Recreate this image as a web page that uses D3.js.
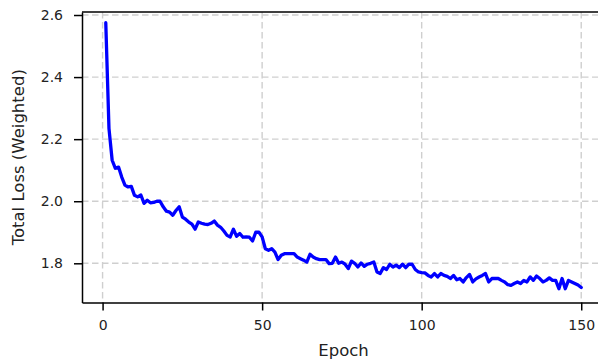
<!DOCTYPE html>
<html>
<head>
<meta charset="utf-8">
<script src="https://cdn.jsdelivr.net/npm/d3@7"></script>
<style>
    body { margin: 0; background: #fff; }
    svg { display: block; font-family: "DejaVu Sans", sans-serif; }
    .grid line { stroke: #cfcfcf; stroke-width: 1.4; stroke-dasharray: 6.5 3.5; }
    .axis text { font-size: 14px; fill: #222; font-family: "DejaVu Sans", sans-serif; }
    .axis line, .axis path { stroke: #000; stroke-width: 1.5; }
</style>
</head>
<body>
<div id="chart"></div>
<script>
// Loss per epoch
const epochs = d3.range(1, 151);
const totalLoss = [
    2.575, 2.235, 2.132, 2.106, 2.110, 2.078, 2.052, 2.046, 2.048, 2.019,
    2.014, 2.020, 1.993, 2.003, 1.995, 1.996, 2.000, 2.000, 1.982, 1.968,
    1.965, 1.955, 1.970, 1.982, 1.949, 1.942, 1.933, 1.926, 1.910, 1.933,
    1.929, 1.926, 1.925, 1.929, 1.936, 1.923, 1.916, 1.904, 1.890, 1.885,
    1.910, 1.887, 1.896, 1.884, 1.885, 1.884, 1.872, 1.900, 1.900, 1.885,
    1.847, 1.842, 1.847, 1.836, 1.812, 1.826, 1.831, 1.831, 1.831, 1.831,
    1.820, 1.815, 1.810, 1.804, 1.829, 1.820, 1.815, 1.812, 1.812, 1.812,
    1.799, 1.800, 1.820, 1.800, 1.804, 1.797, 1.783, 1.807, 1.800, 1.788,
    1.801, 1.790, 1.797, 1.800, 1.804, 1.772, 1.767, 1.786, 1.780, 1.797,
    1.788, 1.794, 1.786, 1.797, 1.786, 1.797, 1.797, 1.780, 1.772, 1.770,
    1.769, 1.761, 1.756, 1.767, 1.756, 1.767, 1.761, 1.758, 1.751, 1.761,
    1.747, 1.751, 1.740, 1.754, 1.764, 1.740, 1.750, 1.756, 1.761, 1.767,
    1.740, 1.751, 1.751, 1.751, 1.745, 1.740, 1.731, 1.729, 1.735, 1.740,
    1.735, 1.745, 1.740, 1.756, 1.745, 1.759, 1.751, 1.740, 1.745, 1.753,
    1.745, 1.745, 1.718, 1.751, 1.718, 1.745, 1.740, 1.735, 1.730, 1.722
];

// Tick values
const xTicks = [0, 50, 100, 150];
const yTicks = [1.8, 2.0, 2.2, 2.4, 2.6];

// Svg size
const svgWidth = 598;
const svgHeight = 362;

// Plot box (right edge runs past the window, as in the reference)
const plot = { left: 82, top: 12, right: 605, bottom: 302.5 };

const svg = d3.select("#chart")
              .append("svg")
              .attr("width", svgWidth)
              .attr("height", svgHeight);

// Scales
const xScale = d3.scaleLinear()
                 .domain([-6.45, 157.45])
                 .range([plot.left, plot.right]);

const yScale = d3.scaleLinear()
                 .domain([1.6737, 2.6097])
                 .range([plot.bottom, plot.top]);

// Dashed grid
const grid = svg.append("g").attr("class", "grid");

grid.selectAll("line.v")
    .data(xTicks)
    .enter()
    .append("line")
    .attr("class", "v")
    .attr("x1", d => xScale(d))
    .attr("x2", d => xScale(d))
    .attr("y1", plot.top)
    .attr("y2", plot.bottom);

grid.selectAll("line.h")
    .data(yTicks)
    .enter()
    .append("line")
    .attr("class", "h")
    .attr("x1", plot.left)
    .attr("x2", plot.right)
    .attr("y1", d => yScale(d))
    .attr("y2", d => yScale(d));

// Loss curve
const line = d3.line()
               .x((d, i) => xScale(epochs[i]))
               .y(d => yScale(d));

svg.append("path")
   .datum(totalLoss)
   .attr("d", line)
   .attr("fill", "none")
   .attr("stroke", "#0000ff")
   .attr("stroke-width", 3.3)
   .attr("stroke-linejoin", "round")
   .attr("stroke-linecap", "round");

// Axes
const xAxis = svg.append("g")
                 .attr("class", "axis")
                 .attr("transform", `translate(0, ${plot.bottom})`)
                 .call(d3.axisBottom(xScale)
                         .tickValues(xTicks)
                         .tickFormat(d3.format("d"))
                         .tickSize(8)
                         .tickSizeOuter(0)
                         .tickPadding(10));

const yAxis = svg.append("g")
                 .attr("class", "axis")
                 .attr("transform", `translate(${plot.left}, 0)`)
                 .call(d3.axisLeft(yScale)
                         .tickValues(yTicks)
                         .tickFormat(d3.format(".1f"))
                         .tickSize(8)
                         .tickSizeOuter(0)
                         .tickPadding(11));

// Top spine
svg.append("line")
   .attr("x1", plot.left)
   .attr("x2", plot.right)
   .attr("y1", plot.top)
   .attr("y2", plot.top)
   .attr("stroke", "#000")
   .attr("stroke-width", 1.5);

// Axis titles
svg.append("text")
   .attr("x", (plot.left + plot.right) / 2)
   .attr("y", 356)
   .attr("text-anchor", "middle")
   .style("font-size", "16.5px")
   .style("fill", "#222")
   .text("Epoch");

svg.append("text")
   .attr("transform", `translate(24, ${(plot.top + plot.bottom) / 2}) rotate(-90)`)
   .attr("text-anchor", "middle")
   .style("font-size", "16.5px")
   .style("fill", "#222")
   .text("Total Loss (Weighted)");
</script>
</body>
</html>
